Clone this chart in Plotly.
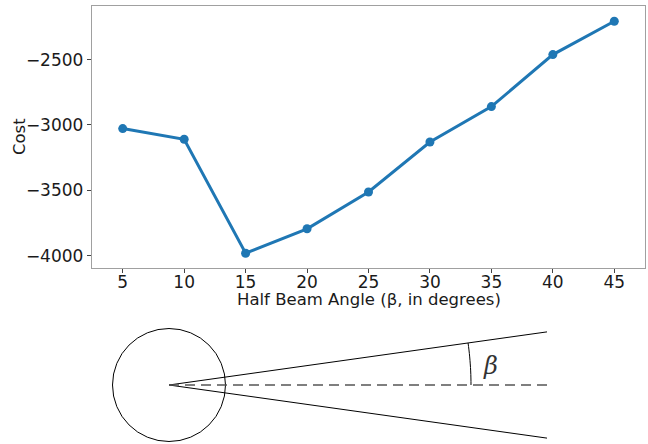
import math
import plotly.graph_objects as go

# ---- data ----
angles = [5, 10, 15, 20, 25, 30, 35, 40, 45]
costs = [-3028, -3110, -3982, -3795, -3513, -3131, -2860, -2462, -2207]
x_ticks = [5, 10, 15, 20, 25, 30, 35, 40, 45]
y_ticks = [-4000, -3500, -3000, -2500]
x_title = "Half Beam Angle (β, in degrees)"
y_title = "Cost"

W, H = 648, 444
L, R, T, B = 92, 3, 6, 176
PW, PH = W - L - R, H - T - B


def px(x):
    return (x - L) / PW


def py(y):
    return (H - B - y) / PH


fig = go.Figure()
fig.add_trace(go.Scatter(
    x=angles, y=costs, mode="lines+markers",
    line=dict(color="#1f77b4", width=3),
    marker=dict(color="#1f77b4", size=9),
    showlegend=False, hoverinfo="skip",
))

tick_font = dict(family="DejaVu Sans", size=17, color="#1a1a1a")
title_font = dict(family="DejaVu Sans", size=16.5, color="#1a1a1a")
axis_common = dict(
    showline=True, mirror=True, linecolor="#a0a0a0", linewidth=1.2,
    ticks="outside", ticklen=4, tickwidth=1, tickcolor="#444",
    showgrid=False, zeroline=False, tickfont=tick_font,
)
fig.update_xaxes(range=[2.5, 47.5], tickvals=x_ticks, ticklabelstandoff=-6, **axis_common)
fig.update_yaxes(range=[-4095, -2090], tickvals=y_ticks, **axis_common)

# ---- beam diagram (schematic, pixel geometry) ----
cx, cy, rad = 169, 385, 56.5
beta_deg = 8.0
length = 378
arc_r = 302
b = math.radians(beta_deg)
ex = cx + length
shapes = []
shapes.append(dict(type="circle", xref="paper", yref="paper",
                   x0=px(cx - rad), x1=px(cx + rad), y0=py(cy + rad), y1=py(cy - rad),
                   line=dict(color="black", width=1)))
for s in (1, -1):
    shapes.append(dict(type="line", xref="paper", yref="paper",
                       x0=px(cx), y0=py(cy), x1=px(ex), y1=py(cy - s * length * math.tan(b)),
                       line=dict(color="black", width=1)))
shapes.append(dict(type="line", xref="paper", yref="paper",
                   x0=px(cx), y0=py(cy), x1=px(ex), y1=py(cy),
                   line=dict(color="#555555", width=1.5, dash="10px,6px")))
pts = []
n = 12
for i in range(n + 1):
    a = b * i / n
    pts.append((px(cx + arc_r * math.cos(a)), py(cy - arc_r * math.sin(a))))
path = "M " + " L ".join(f"{x:.5f},{y:.5f}" for x, y in pts)
shapes.append(dict(type="path", xref="paper", yref="paper", path=path,
                   line=dict(color="black", width=1)))

annotations = [
    dict(text=x_title, xref="paper", yref="paper", x=0.5, y=py(299),
         showarrow=False, xanchor="center", yanchor="middle", font=title_font),
    dict(text=y_title, xref="paper", yref="paper", x=px(19), y=0.5, textangle=-90,
         showarrow=False, xanchor="center", yanchor="middle", font=title_font),
    dict(text="<i>β</i>", xref="paper", yref="paper",
         x=px(490), y=py(366), showarrow=False,
         xanchor="center", yanchor="middle",
         font=dict(family="DejaVu Serif", size=24, color="#333")),
]

fig.update_layout(
    shapes=shapes,
    annotations=annotations,
    width=W, height=H,
    margin=dict(l=L, r=R, t=T, b=B, autoexpand=False),
    paper_bgcolor="white", plot_bgcolor="white",
    hovermode=False,
)
fig.write_html("out.html", config={"displayModeBar": False, "staticPlot": True},
               post_script="document.body.style.margin='0';document.body.style.overflow='hidden';")
